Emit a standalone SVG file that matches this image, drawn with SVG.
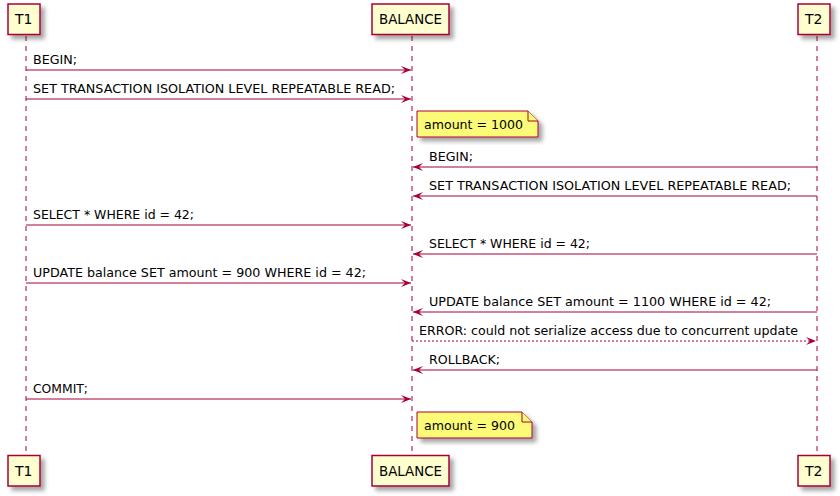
<svg xmlns="http://www.w3.org/2000/svg" width="840" height="496" viewBox="0 0 840 496">
<defs>
<filter id="sh" x="-20%" y="-20%" width="150%" height="150%">
<feGaussianBlur in="SourceAlpha" stdDeviation="2"/>
<feOffset dx="4" dy="4" result="b"/>
<feFlood flood-color="#000" flood-opacity="0.35"/>
<feComposite in2="b" operator="in"/>
<feMerge><feMergeNode/><feMergeNode in="SourceGraphic"/></feMerge>
</filter>
<marker id="ah" viewBox="0 0 10 8" refX="10" refY="4" markerWidth="10" markerHeight="8" markerUnits="userSpaceOnUse" orient="auto">
<polygon points="0,0 10,4 0,8 4,4" fill="#A80036"/>
</marker>
</defs>
<style>
.life{stroke:#A80036;stroke-width:1;stroke-dasharray:5,5;fill:none}
.box{fill:#FEFECE;stroke:#A80036;stroke-width:1.5}
.note{fill:#FBFB77;stroke:#A80036;stroke-width:1}
.msg{stroke:#A80036;stroke-width:1;fill:none}
.dash{stroke-dasharray:2,2}
text{font-family:"DejaVu Sans",sans-serif;fill:#000}
.pt{font-size:14px}
.mt{font-size:13px}
</style>
<rect width="840" height="496" fill="#fff"/>
<g id="lifelines">
<line class="life" x1="26" y1="36" x2="26" y2="455"/>
<line class="life" x1="412" y1="36" x2="412" y2="455"/>
<line class="life" x1="817" y1="36" x2="817" y2="455"/>
</g>
<g id="T1">
<rect class="box" x="8" y="4" width="32" height="30.5" filter="url(#sh)"/>
<text class="pt" x="15" y="24">T1</text>
<rect class="box" x="8" y="455.5" width="32" height="30.5" filter="url(#sh)"/>
<text class="pt" x="15" y="475.5">T1</text>
</g>
<g id="BALANCE">
<rect class="box" x="372" y="4" width="77" height="30.5" filter="url(#sh)"/>
<text class="pt" x="379" y="24" textLength="63" lengthAdjust="spacingAndGlyphs">BALANCE</text>
<rect class="box" x="372" y="455.5" width="77" height="30.5" filter="url(#sh)"/>
<text class="pt" x="379" y="475.5" textLength="63" lengthAdjust="spacingAndGlyphs">BALANCE</text>
</g>
<g id="T2">
<rect class="box" x="798" y="4" width="32" height="30.5" filter="url(#sh)"/>
<text class="pt" x="805" y="24">T2</text>
<rect class="box" x="798" y="455.5" width="32" height="30.5" filter="url(#sh)"/>
<text class="pt" x="805" y="475.5">T2</text>
</g>
<g id="note1000">
<path class="note" d="M417,111 L528,111 L538,121 L538,137 L417,137 Z" filter="url(#sh)"/>
<path class="note" d="M528,111 L528,121 L538,121"/>
<text class="mt" x="424" y="129" textLength="99" lengthAdjust="spacingAndGlyphs">amount = 1000</text>
</g>
<g id="note900">
<path class="note" d="M417,412 L522,412 L532,422 L532,438 L417,438 Z" filter="url(#sh)"/>
<path class="note" d="M522,412 L522,422 L532,422"/>
<text class="mt" x="424" y="430" textLength="91" lengthAdjust="spacingAndGlyphs">amount = 900</text>
</g>
<g id="connectors">
<line class="msg" x1="26" y1="70" x2="411" y2="70" marker-end="url(#ah)"/>
<text class="mt" x="33" y="64" textLength="44" lengthAdjust="spacingAndGlyphs">BEGIN;</text>
<line class="msg" x1="26" y1="99" x2="411" y2="99" marker-end="url(#ah)"/>
<text class="mt" x="33" y="93" textLength="362" lengthAdjust="spacingAndGlyphs">SET TRANSACTION ISOLATION LEVEL REPEATABLE READ;</text>
<line class="msg" x1="817" y1="167" x2="413" y2="167" marker-end="url(#ah)"/>
<text class="mt" x="429" y="161" textLength="44" lengthAdjust="spacingAndGlyphs">BEGIN;</text>
<line class="msg" x1="817" y1="196" x2="413" y2="196" marker-end="url(#ah)"/>
<text class="mt" x="429" y="190" textLength="362" lengthAdjust="spacingAndGlyphs">SET TRANSACTION ISOLATION LEVEL REPEATABLE READ;</text>
<line class="msg" x1="26" y1="225" x2="411" y2="225" marker-end="url(#ah)"/>
<text class="mt" x="33" y="219" textLength="161" lengthAdjust="spacingAndGlyphs">SELECT * WHERE id = 42;</text>
<line class="msg" x1="817" y1="254" x2="413" y2="254" marker-end="url(#ah)"/>
<text class="mt" x="429" y="248" textLength="161" lengthAdjust="spacingAndGlyphs">SELECT * WHERE id = 42;</text>
<line class="msg" x1="26" y1="283" x2="411" y2="283" marker-end="url(#ah)"/>
<text class="mt" x="33" y="277" textLength="333" lengthAdjust="spacingAndGlyphs">UPDATE balance SET amount = 900 WHERE id = 42;</text>
<line class="msg" x1="817" y1="312" x2="413" y2="312" marker-end="url(#ah)"/>
<text class="mt" x="429" y="306" textLength="342" lengthAdjust="spacingAndGlyphs">UPDATE balance SET amount = 1100 WHERE id = 42;</text>
<line class="msg dash" x1="412" y1="341" x2="816" y2="341" marker-end="url(#ah)"/>
<text class="mt" x="419" y="335" textLength="379" lengthAdjust="spacingAndGlyphs">ERROR: could not serialize access due to concurrent update</text>
<line class="msg" x1="817" y1="370" x2="413" y2="370" marker-end="url(#ah)"/>
<text class="mt" x="429" y="364" textLength="71" lengthAdjust="spacingAndGlyphs">ROLLBACK;</text>
<line class="msg" x1="26" y1="399" x2="411" y2="399" marker-end="url(#ah)"/>
<text class="mt" x="33" y="393" textLength="55" lengthAdjust="spacingAndGlyphs">COMMIT;</text>
</g>
</svg>
